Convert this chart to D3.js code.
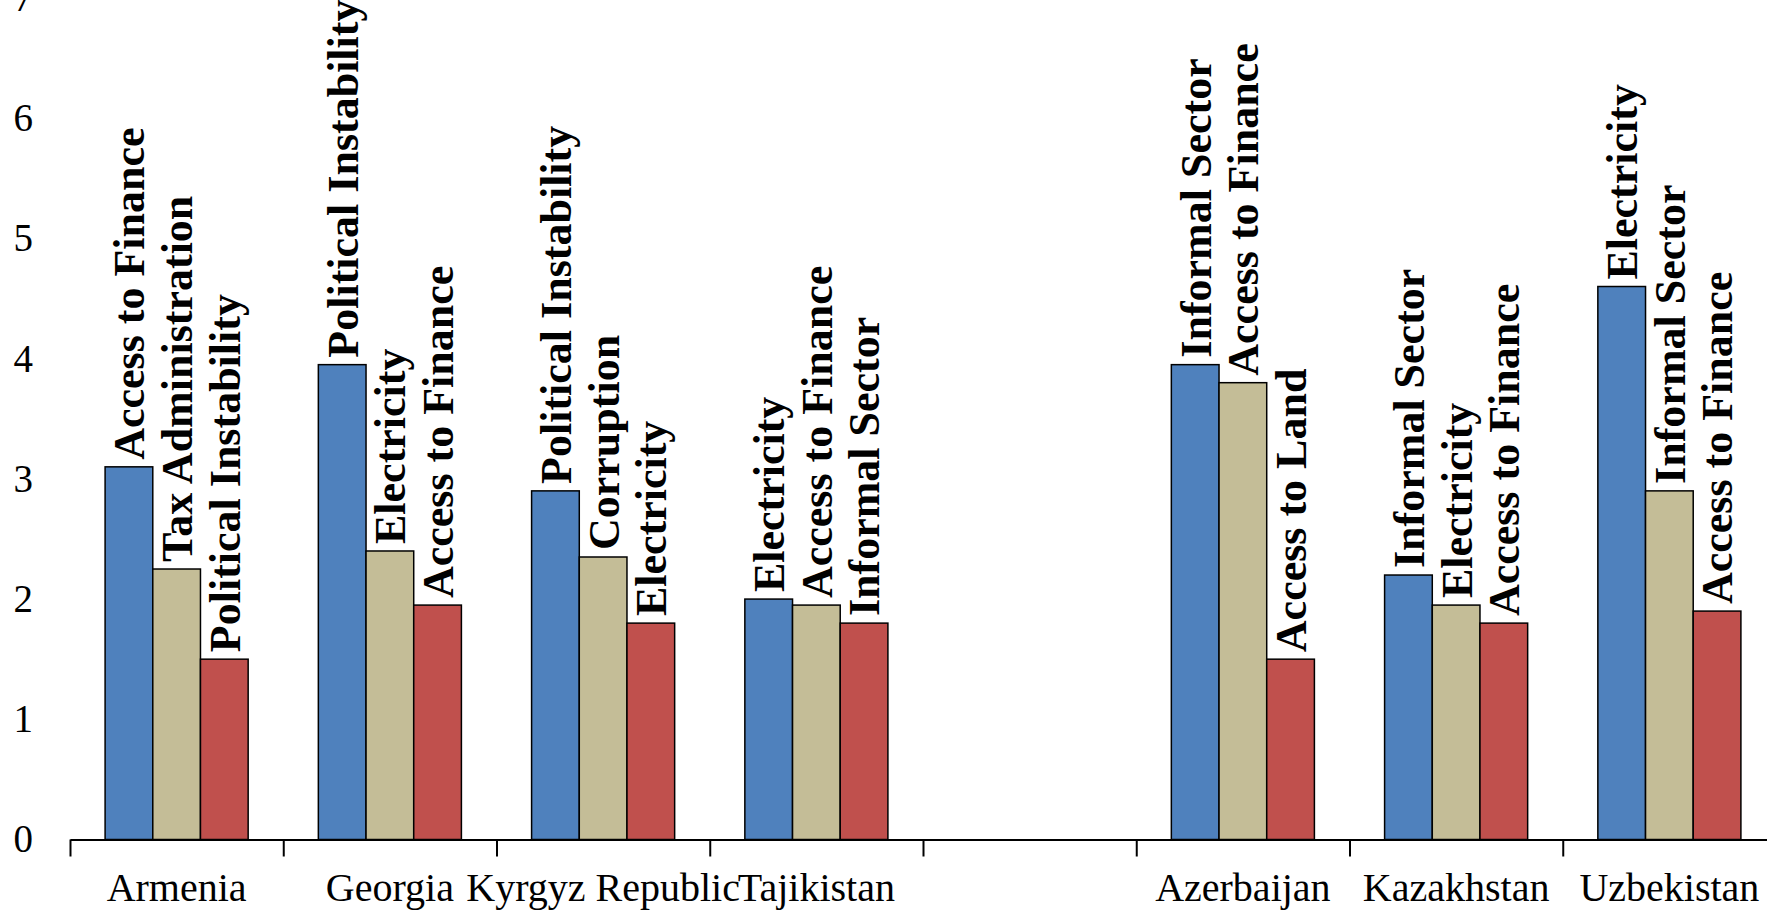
<!DOCTYPE html>
<html>
<head>
<meta charset="UTF-8">
<title>Top obstacles by country</title>
<script src="https://cdn.jsdelivr.net/npm/d3@7"></script>
<style>
    body {
        margin: 0;
        background: #fff;
    }
    svg {
        display: block;
        font-family: "Liberation Serif", "Times New Roman", serif;
    }
    .axis path, .axis line {
        stroke: #000;
        stroke-width: 2;
    }
    .y.axis text {
        font-size: 39px;
    }
    .x.labels text {
        font-size: 40px;
    }
    rect.bar {
        stroke: #000;
        stroke-width: 1.5;
    }
    text.barlabel {
        font-size: 44px;
        font-weight: bold;
    }
</style>
</head>
<body>
<script>
    // categories (the empty slot separates the two country groups)
    var countries = ["Armenia", "Georgia", "Kyrgyz Republic", "Tajikistan", "", "Azerbaijan", "Kazakhstan", "Uzbekistan"];

    // value of the 1st, 2nd and 3rd ranked obstacle
    var firstValues  = [3.1, 3.95, 2.9, 2.0, null, 3.95, 2.2, 4.6];
    var secondValues = [2.25, 2.4, 2.35, 1.95, null, 3.8, 1.95, 2.9];
    var thirdValues  = [1.5, 1.95, 1.8, 1.8, null, 1.5, 1.8, 1.9];

    // obstacle names written on the bars
    var firstNames  = ["Access to Finance", "Political Instability", "Political Instability", "Electricity", "", "Informal Sector", "Informal Sector", "Electricity"];
    var secondNames = ["Tax Administration", "Electricity", "Corruption", "Access to Finance", "", "Access to Finance", "Electricity", "Informal Sector"];
    var thirdNames  = ["Political Instability", "Access to Finance", "Electricity", "Informal Sector", "", "Access to Land", "Access to Finance", "Access to Finance"];

    var yTicks = [0, 1, 2, 3, 4, 5, 6, 7];
    var colors = ["#4F81BD", "#C4BD97", "#C0504D"];

    var W = 1767, H = 910;
    var plotLeft = 70, plotRight = 1776, plotBase = 839.5, plotTop = -2;

    var svg = d3.select("body").append("svg")
            .attr("width", W)
            .attr("height", H);

    var x = d3.scaleBand()
            .domain(d3.range(countries.length))
            .range([plotLeft, plotRight]);

    var xEdge = d3.scaleLinear()
            .domain([0, countries.length])
            .range([plotLeft, plotRight]);

    var x1 = d3.scaleBand()
            .domain([0, 1, 2])
            .range([0, x.bandwidth()])
            .paddingOuter(0.736);

    var y = d3.scaleLinear()
            .domain([0, 7])
            .range([plotBase, plotTop]);

    // y tick labels only, no line
    var yAxis = d3.axisLeft(y)
            .tickValues(yTicks)
            .tickFormat(d3.format("d"))
            .tickSize(0)
            .tickPadding(3);

    var gy = svg.append("g")
            .attr("class", "y axis")
            .attr("transform", "translate(36,0)")
            .call(yAxis)
            .attr("font-family", null)
            .attr("font-size", null);
    gy.select(".domain").remove();
    gy.selectAll("text").attr("fill", "#000");

    // flatten into bar records
    var series = [firstValues, secondValues, thirdValues];
    var names = [firstNames, secondNames, thirdNames];
    var bars = [];
    countries.forEach(function (c, i) {
        series.forEach(function (s, k) {
            if (s[i] != null) bars.push({ i: i, k: k, v: s[i], name: names[k][i] });
        });
    });

    svg.append("g").selectAll("rect")
            .data(bars)
            .enter().append("rect")
            .attr("class", "bar")
            .attr("x", function (d) { return x(d.i) + x1(d.k); })
            .attr("width", x1.bandwidth())
            .attr("y", function (d) { return y(d.v); })
            .attr("height", function (d) { return y(0) - y(d.v); })
            .attr("fill", function (d) { return colors[d.k]; });

    svg.append("g").selectAll("text")
            .data(bars)
            .enter().append("text")
            .attr("class", "barlabel")
            .attr("transform", function (d) {
                var cx = x(d.i) + x1(d.k) + x1.bandwidth() / 2;
                return "translate(" + cx + "," + (y(d.v) - 7) + ") rotate(-90)";
            })
            .attr("dy", "0.35em")
            .text(function (d) { return d.name; });

    // x axis: line with ticks at category edges
    var xAxis = d3.axisBottom(xEdge)
            .tickValues(d3.range(countries.length + 1))
            .tickFormat("")
            .tickSizeInner(17)
            .tickSizeOuter(0);

    svg.append("g")
            .attr("class", "x axis")
            .attr("transform", "translate(0," + plotBase + ")")
            .call(xAxis);

    // category labels
    var labelAxis = d3.axisBottom(x)
            .tickFormat(function (i) { return countries[i]; })
            .tickSize(0)
            .tickPadding(33);

    var gl = svg.append("g")
            .attr("class", "x labels")
            .attr("transform", "translate(0," + plotBase + ")")
            .call(labelAxis)
            .attr("font-family", null)
            .attr("font-size", null);
    gl.select(".domain").remove();
    gl.selectAll("text").attr("fill", "#000");
</script>
</body>
</html>
